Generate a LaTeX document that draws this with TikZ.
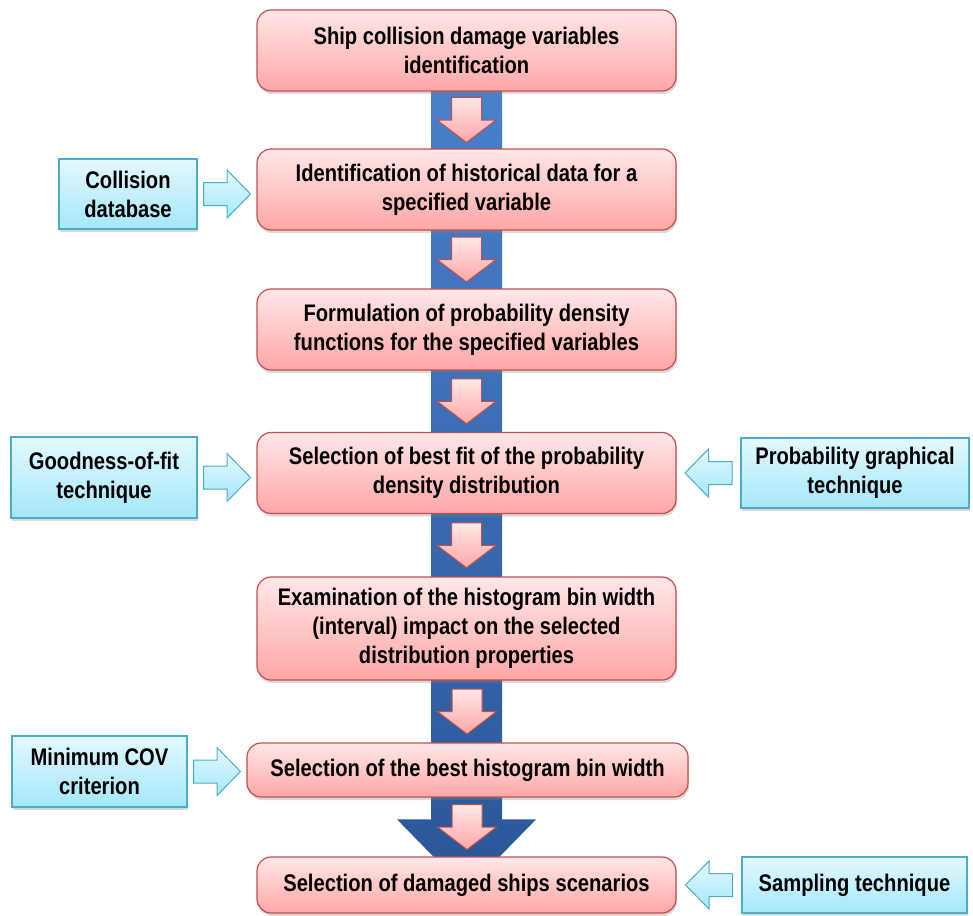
\documentclass[tikz,border=0pt]{standalone}
\usepackage{fontspec}
\setmainfont[FakeStretch=0.84]{Liberation Sans}
\usetikzlibrary{calc,shadows,backgrounds}

\definecolor{pinktop}{RGB}{255,231,231}
\definecolor{pinkbot}{RGB}{255,166,166}
\definecolor{pinkline}{RGB}{192,80,77}
\definecolor{cyantop}{RGB}{228,248,254}
\definecolor{cyanbot}{RGB}{164,232,250}
\definecolor{cyanline}{RGB}{75,172,198}
\definecolor{bartop}{RGB}{74,130,204}
\definecolor{barbot}{RGB}{42,86,152}

% block arrow pointing down between two boxes
\newcommand{\pinkdown}[2]{%
  \path[pinkarrow] let \p1=($(#1.south)!0.5!(#2.north)$) in
    (\x1-15pt,\y1+22.5pt) -- (\x1+15pt,\y1+22.5pt) -- (\x1+15pt,\y1) -- (\x1+29.5pt,\y1)
    -- (\x1,\y1-22.5pt) -- (\x1-29.5pt,\y1) -- (\x1-15pt,\y1) -- cycle;}
% block arrow from a side box, to the right or to the left
\newcommand{\sideright}[2]{%
  \path[cyanarrow] let \p1=($(#1.east)!0.5!(#2.west)$), \p2=(#1.east) in
    (\x1-23.5pt,\y2+11.5pt) -- (\x1,\y2+11.5pt) -- (\x1,\y2+24pt) -- (\x1+23.5pt,\y2)
    -- (\x1,\y2-24pt) -- (\x1,\y2-11.5pt) -- (\x1-23.5pt,\y2-11.5pt) -- cycle;}
\newcommand{\sideleft}[2]{%
  \path[cyanarrow] let \p1=($(#1.west)!0.5!(#2.east)$), \p2=(#1.west) in
    (\x1+23.5pt,\y2+11.5pt) -- (\x1,\y2+11.5pt) -- (\x1,\y2+24pt) -- (\x1-23.5pt,\y2)
    -- (\x1,\y2-24pt) -- (\x1,\y2-11.5pt) -- (\x1+23.5pt,\y2-11.5pt) -- cycle;}

\begin{document}
\begin{tikzpicture}[x=1pt, y=-1pt]
        \tikzset{boxfont/.style={font=\bfseries\fontsize{24}{29}\selectfont}}
        \tikzset{mainbox/.style={boxfont, draw=pinkline, line width=1.2pt, rounded corners=14pt,
            top color=pinktop, bottom color=pinkbot, align=center, inner sep=2pt,
            minimum width=419pt, minimum height=81pt,
            drop shadow={opacity=0.3, shadow xshift=1pt, shadow yshift=-3pt}}}
        \tikzset{sidebox/.style={boxfont, draw=cyanline, line width=1.2pt,
            top color=cyantop, bottom color=cyanbot, align=center, inner sep=2pt,
            drop shadow={opacity=0.3, shadow xshift=1pt, shadow yshift=-3pt}}}
        \tikzset{pinkarrow/.style={draw=pinkline, line width=1pt, top color=pinktop, bottom color=pinkbot}}
        \tikzset{cyanarrow/.style={draw=cyanline, line width=1pt, top color=cyantop, bottom color=cyanbot}}
        \tikzset{bluebar/.style={top color=bartop, bottom color=barbot}}
        \useasboundingbox (0,0) rectangle (973,915);
        % main steps
        \node[mainbox] (vars) at (466.5,50.5) {Ship collision damage variables\\identification};
        \node[mainbox] (hist) at (466.5,189.5) {Identification of historical data for a\\specified variable};
        \node[mainbox] (pdf) at (466.5,329.5) {Formulation of probability density\\functions for the specified variables};
        \node[mainbox] (fit) at (466.5,473) {Selection of best fit of the probability\\density distribution};
        \node[mainbox, minimum height=103pt] (bins) at (466.5,628.5) {Examination of the histogram bin width\\(interval) impact on the selected\\distribution properties};
        \node[mainbox, minimum width=441pt, minimum height=54pt] (best) at (467.5,770) {Selection of the best histogram bin width};
        \node[mainbox, minimum height=56pt] (scen) at (466.5,885) {Selection of damaged ships scenarios};
        % side inputs
        \node[sidebox, minimum width=138pt, minimum height=70pt] (db) at (128,194) {Collision\\database};
        \node[sidebox, minimum width=186pt, minimum height=81pt] (gof) at (104,477.5) {Goodness-of-fit\\technique};
        \node[sidebox, minimum width=228pt, minimum height=70pt] (graph) at (855,473) {Probability graphical\\technique};
        \node[sidebox, minimum width=175pt, minimum height=71pt] (cov) at (99.5,771.5) {Minimum COV\\criterion};
        \node[sidebox, minimum width=225pt, minimum height=56pt] (samp) at (854.5,885) {Sampling technique};
        % blue column behind the steps
        \begin{scope}[on background layer]
          \path[bluebar] let \p1=(vars.center), \p2=(scen.north) in
            (\x1-35.5pt,\y1) -- (\x1+35.5pt,\y1) -- (\x1+35.5pt,\y2+37pt) -- (\x1+69.5pt,\y2+37pt)
            -- (\x1,\y2-34pt) -- (\x1-69.5pt,\y2+37pt) -- (\x1-35.5pt,\y2+37pt) -- cycle;
        \end{scope}
        \pinkdown{vars}{hist}
        \pinkdown{hist}{pdf}
        \pinkdown{pdf}{fit}
        \pinkdown{fit}{bins}
        \pinkdown{bins}{best}
        \pinkdown{best}{scen}
        \sideright{db}{hist}
        \sideright{gof}{fit}
        \sideright{cov}{best}
        \sideleft{graph}{fit}
        \sideleft{samp}{scen}
      \end{tikzpicture}
\end{document}
